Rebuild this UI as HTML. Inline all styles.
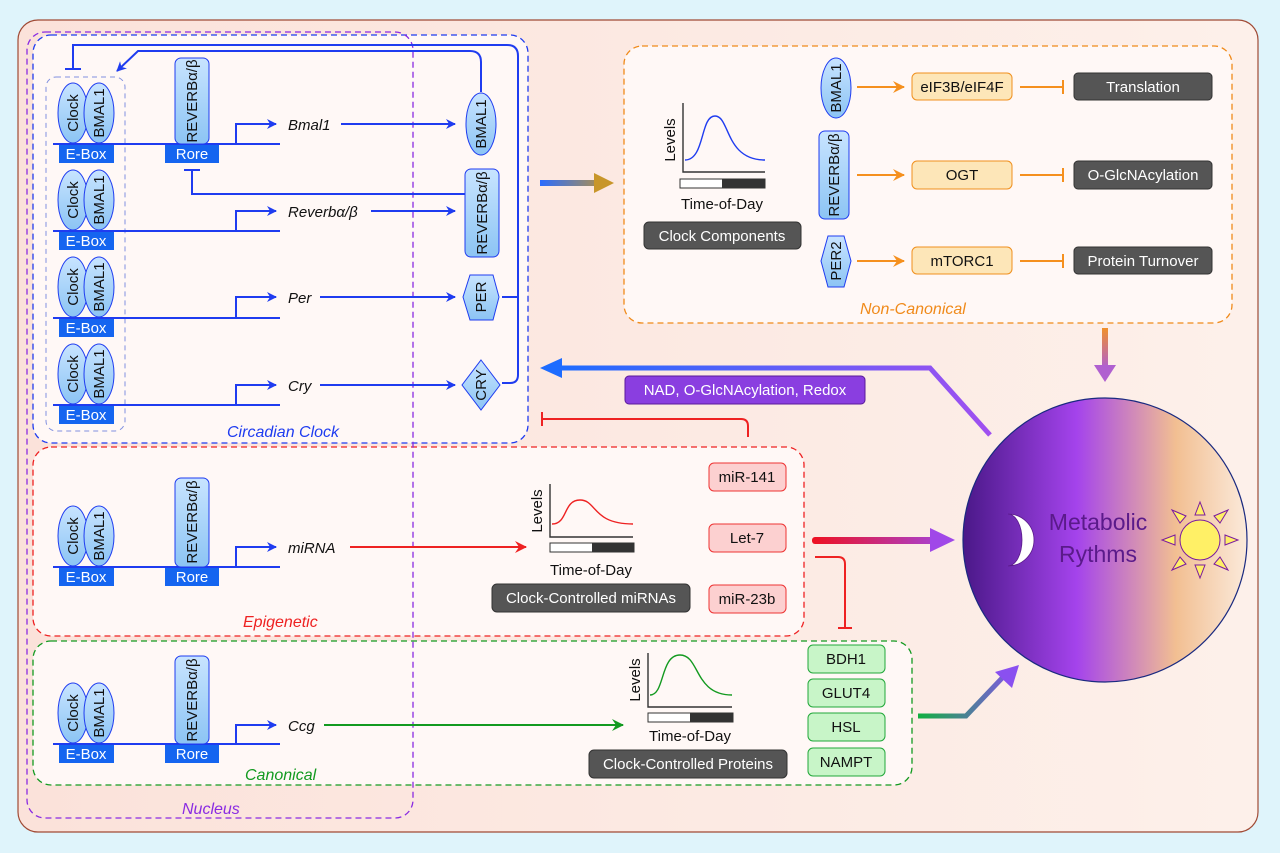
<!DOCTYPE html>
<html><head><meta charset="utf-8"><style>
html,body{margin:0;padding:0;background:#dff4fb}
svg{display:block;font-family:"Liberation Sans",sans-serif}
</style></head><body>
<svg width="1280" height="853" viewBox="0 0 1280 853" xmlns="http://www.w3.org/2000/svg">
<defs>
<linearGradient id="bg" x1="0" y1="0" x2="1" y2="0"><stop offset="0" stop-color="#fbe2da"/><stop offset="1" stop-color="#fdf0ea"/></linearGradient>
<linearGradient id="circ" x1="0" y1="0" x2="1" y2="0"><stop offset="0" stop-color="#4a1888"/><stop offset="0.4" stop-color="#a443ec"/><stop offset="0.75" stop-color="#f2bf92"/><stop offset="1" stop-color="#fbeadb"/></linearGradient>
<linearGradient id="ga1" gradientUnits="userSpaceOnUse" x1="540" y1="0" x2="614" y2="0"><stop offset="0" stop-color="#2a6cff"/><stop offset="1" stop-color="#c8962a"/></linearGradient>
<linearGradient id="ga2" x1="0" y1="0" x2="0" y2="1"><stop offset="0" stop-color="#f0902a"/><stop offset="1" stop-color="#b060d0"/></linearGradient>
<linearGradient id="ga3" gradientUnits="userSpaceOnUse" x1="560" y1="0" x2="990" y2="0"><stop offset="0" stop-color="#1e6cff"/><stop offset="1" stop-color="#a050f0"/></linearGradient>
<linearGradient id="ga4" gradientUnits="userSpaceOnUse" x1="812" y1="0" x2="955" y2="0"><stop offset="0" stop-color="#ee1020"/><stop offset="1" stop-color="#a048e8"/></linearGradient>
<linearGradient id="ga5" gradientUnits="userSpaceOnUse" x1="918" y1="0" x2="1019" y2="0"><stop offset="0" stop-color="#10b040"/><stop offset="1" stop-color="#8a50f0"/></linearGradient>
<linearGradient id="blu" x1="0" y1="0" x2="0" y2="1"><stop offset="0" stop-color="#c8e4ff"/><stop offset="1" stop-color="#8cc4f4"/></linearGradient>
<marker id="ab" markerWidth="10" markerHeight="10" refX="9" refY="5" orient="auto" markerUnits="userSpaceOnUse"><path d="M0,0 L10,5 L0,10 L3,5z" fill="#1f3cf0"/></marker>
<marker id="ar" markerWidth="12" markerHeight="12" refX="11" refY="6" orient="auto" markerUnits="userSpaceOnUse"><path d="M0,0 L12,6 L0,12 L4,6z" fill="#ee2222"/></marker>
<marker id="ag" markerWidth="12" markerHeight="12" refX="11" refY="6" orient="auto" markerUnits="userSpaceOnUse"><path d="M0,0 L12,6 L0,12 L4,6z" fill="#139a20"/></marker>
<marker id="ao" markerWidth="12" markerHeight="12" refX="11" refY="6" orient="auto" markerUnits="userSpaceOnUse"><path d="M0,0 L12,6 L0,12 L4,6z" fill="#f5901e"/></marker>
</defs>
<rect x="0" y="0" width="1280" height="853" fill="#dff4fb"/>
<rect x="18" y="20" width="1240" height="812" rx="20" fill="url(#bg)" stroke="#a04a35" stroke-width="1.2"/>

<rect x="33" y="35" width="495" height="408" rx="18" fill="#fff8f6" stroke="#1f3cf0" stroke-width="1.3" stroke-dasharray="6,4"/>
<rect x="33" y="447" width="771" height="189" rx="18" fill="#fff8f6" stroke="#ee2222" stroke-width="1.3" stroke-dasharray="6,4"/>
<rect x="33" y="641" width="879" height="144" rx="18" fill="#fff8f6" stroke="#139a20" stroke-width="1.3" stroke-dasharray="6,4"/>
<rect x="624" y="46" width="608" height="277" rx="18" fill="#fff8f6" stroke="#f08a1a" stroke-width="1.3" stroke-dasharray="6,4"/>
<rect x="27" y="32" width="386" height="786" rx="18" fill="none" stroke="#8a2be2" stroke-width="1.3" stroke-dasharray="6,4"/>
<rect x="46" y="77" width="79" height="354" rx="10" fill="none" stroke="#8090e0" stroke-width="1" stroke-dasharray="5,4"/>

<g font-size="15" fill="#111">
<g stroke="#1f3cf0" stroke-width="2" fill="none">
<line x1="53" y1="144" x2="280" y2="144"/><line x1="53" y1="231" x2="280" y2="231"/>
<line x1="53" y1="318" x2="280" y2="318"/><line x1="53" y1="405" x2="280" y2="405"/>
<line x1="53" y1="567" x2="280" y2="567"/><line x1="53" y1="744" x2="280" y2="744"/>
<path d="M236,144 V124 H276" marker-end="url(#ab)"/>
<path d="M236,231 V211 H276" marker-end="url(#ab)"/>
<path d="M236,318 V297 H276" marker-end="url(#ab)"/>
<path d="M236,405 V385 H276" marker-end="url(#ab)"/>
<path d="M236,567 V547 H276" marker-end="url(#ab)"/>
<path d="M236,744 V725 H276" marker-end="url(#ab)"/>
<line x1="341" y1="124" x2="455" y2="124" marker-end="url(#ab)"/>
<line x1="371" y1="211" x2="455" y2="211" marker-end="url(#ab)"/>
<line x1="320" y1="297" x2="455" y2="297" marker-end="url(#ab)"/>
<line x1="320" y1="385" x2="455" y2="385" marker-end="url(#ab)"/>
<path d="M465,194 H192 Q192,194 192,180 V170"/><line x1="184" y1="170" x2="200" y2="170"/>
<path d="M481,92 V62 Q481,51 470,51 H138 L117,71" marker-end="url(#ab)"/>
<path d="M502,297 H518"/><path d="M502,383 H510 Q518,383 518,375 V56 Q518,45 507,45 H73 V68"/>
<line x1="65" y1="69" x2="81" y2="69"/>
</g>
<g fill="url(#blu)" stroke="#1f3cf0" stroke-width="1">
<ellipse cx="73" cy="113" rx="15" ry="30"/><ellipse cx="99" cy="113" rx="15" ry="30"/>
<ellipse cx="73" cy="200" rx="15" ry="30"/><ellipse cx="99" cy="200" rx="15" ry="30"/>
<ellipse cx="73" cy="287" rx="15" ry="30"/><ellipse cx="99" cy="287" rx="15" ry="30"/>
<ellipse cx="73" cy="374" rx="15" ry="30"/><ellipse cx="99" cy="374" rx="15" ry="30"/>
<ellipse cx="73" cy="536" rx="15" ry="30"/><ellipse cx="99" cy="536" rx="15" ry="30"/>
<ellipse cx="73" cy="713" rx="15" ry="30"/><ellipse cx="99" cy="713" rx="15" ry="30"/>
<rect x="175" y="58" width="34" height="86" rx="6"/>
<rect x="175" y="478" width="34" height="89" rx="6"/>
<rect x="175" y="656" width="34" height="88" rx="6"/>
<ellipse cx="481" cy="124" rx="15" ry="31"/>
<rect x="465" y="169" width="34" height="88" rx="6"/>
<path d="M470,275 H493 L499,297 L493,320 H470 L463,297z"/>
<path d="M481,360 L500,385 L481,410 L462,385z"/>
<ellipse cx="836" cy="88" rx="15" ry="30"/>
<rect x="819" y="131" width="30" height="88" rx="6"/>
<path d="M828,236 H844 L851,261 L844,287 H828 L821,261z"/>
</g>
<g fill="#1565f0">
<rect x="59" y="145" width="55" height="18"/><rect x="59" y="232" width="55" height="18"/>
<rect x="59" y="319" width="55" height="18"/><rect x="59" y="406" width="55" height="18"/>
<rect x="59" y="568" width="55" height="18"/><rect x="59" y="745" width="55" height="18"/>
<rect x="165" y="145" width="54" height="18"/><rect x="165" y="568" width="54" height="18"/><rect x="165" y="745" width="54" height="18"/>
</g>
<g fill="#fff" font-size="15" text-anchor="middle">
<text x="86" y="159">E-Box</text><text x="86" y="246">E-Box</text><text x="86" y="333">E-Box</text><text x="86" y="420">E-Box</text><text x="86" y="582">E-Box</text><text x="86" y="759">E-Box</text>
<text x="192" y="159">Rore</text><text x="192" y="582">Rore</text><text x="192" y="759">Rore</text>
</g>
<g font-size="15" text-anchor="middle" fill="#111">
<text transform="translate(78,113) rotate(-90)">Clock</text><text transform="translate(104,113) rotate(-90)">BMAL1</text>
<text transform="translate(78,200) rotate(-90)">Clock</text><text transform="translate(104,200) rotate(-90)">BMAL1</text>
<text transform="translate(78,287) rotate(-90)">Clock</text><text transform="translate(104,287) rotate(-90)">BMAL1</text>
<text transform="translate(78,374) rotate(-90)">Clock</text><text transform="translate(104,374) rotate(-90)">BMAL1</text>
<text transform="translate(78,536) rotate(-90)">Clock</text><text transform="translate(104,536) rotate(-90)">BMAL1</text>
<text transform="translate(78,713) rotate(-90)">Clock</text><text transform="translate(104,713) rotate(-90)">BMAL1</text>
<text transform="translate(197,101) rotate(-90)">REVERBα/β</text>
<text transform="translate(197,522) rotate(-90)">REVERBα/β</text>
<text transform="translate(197,700) rotate(-90)">REVERBα/β</text>
<text transform="translate(486,124) rotate(-90)">BMAL1</text>
<text transform="translate(487,213) rotate(-90)">REVERBα/β</text>
<text transform="translate(486,297) rotate(-90)">PER</text>
<text transform="translate(486,385) rotate(-90)">CRY</text>
<text transform="translate(841,88) rotate(-90)">BMAL1</text>
<text transform="translate(839,175) rotate(-90)">REVERBα/β</text>
<text transform="translate(841,261) rotate(-90)">PER2</text>
</g>
<g font-style="italic" font-size="15">
<text x="288" y="130">Bmal1</text><text x="288" y="217">Reverbα/β</text>
<text x="288" y="303">Per</text><text x="288" y="391">Cry</text>
<text x="288" y="553">miRNA</text><text x="288" y="731">Ccg</text>
<text x="227" y="437" fill="#1f3cf0" font-size="16">Circadian Clock</text>
<text x="243" y="627" fill="#ee2222" font-size="16">Epigenetic</text>
<text x="245" y="780" fill="#139a20" font-size="16">Canonical</text>
<text x="182" y="814" fill="#8a2be2" font-size="16">Nucleus</text>
<text x="860" y="314" fill="#f08a1a" font-size="16">Non-Canonical</text>
</g>

<line x1="350" y1="547" x2="526" y2="547" stroke="#ee2222" stroke-width="2" marker-end="url(#ar)"/>
<line x1="324" y1="725" x2="623" y2="725" stroke="#139a20" stroke-width="2" marker-end="url(#ag)"/>

<g fill="none" stroke-width="1.4">
<path d="M683,103 V172 H765" stroke="#333"/>
<path d="M685,160 C705,160 700,116 715,116 C730,116 725,160 765,160" stroke="#1f3cf0"/>
<path d="M550,484 V537 H633" stroke="#333"/>
<path d="M552,524 C568,524 563,500 580,500 C597,500 592,524 633,524" stroke="#ee2222"/>
<path d="M648,653 V707 H732" stroke="#333"/>
<path d="M650,695 C665,695 660,655 680,655 C700,655 694,695 732,695" stroke="#139a20"/>
</g>
<rect x="680" y="179" width="85" height="9" fill="#fff" stroke="#333"/><rect x="722" y="179" width="43" height="9" fill="#333"/>
<rect x="550" y="543" width="84" height="9" fill="#fff" stroke="#333"/><rect x="592" y="543" width="42" height="9" fill="#333"/>
<rect x="648" y="713" width="85" height="9" fill="#fff" stroke="#333"/><rect x="690" y="713" width="43" height="9" fill="#333"/>
<g font-size="15" text-anchor="middle">
<text transform="translate(675,140) rotate(-90)">Levels</text>
<text transform="translate(542,511) rotate(-90)">Levels</text>
<text transform="translate(640,680) rotate(-90)">Levels</text>
<text x="722" y="209">Time-of-Day</text>
<text x="591" y="575">Time-of-Day</text>
<text x="690" y="741">Time-of-Day</text>
</g>
<g fill="#555" stroke="#333"><rect x="644" y="222" width="157" height="27" rx="5"/><rect x="492" y="584" width="198" height="28" rx="5"/><rect x="589" y="750" width="198" height="28" rx="5"/>
<rect x="1074" y="73" width="138" height="27" rx="4"/><rect x="1074" y="161" width="138" height="28" rx="4"/><rect x="1074" y="247" width="138" height="27" rx="4"/></g>
<g fill="#fff" text-anchor="middle" font-size="15">
<text x="722" y="241">Clock Components</text><text x="591" y="603">Clock-Controlled miRNAs</text><text x="688" y="769">Clock-Controlled Proteins</text>
<text x="1143" y="92">Translation</text><text x="1143" y="180">O-GlcNAcylation</text><text x="1143" y="266">Protein Turnover</text>
</g>
<g fill="#fde6b8" stroke="#f0901e"><rect x="912" y="73" width="100" height="27" rx="5"/><rect x="912" y="161" width="100" height="28" rx="5"/><rect x="912" y="247" width="100" height="27" rx="5"/></g>
<g text-anchor="middle"><text x="962" y="92">eIF3B/eIF4F</text><text x="962" y="180">OGT</text><text x="962" y="266">mTORC1</text></g>
<g stroke="#f5901e" stroke-width="2">
<line x1="857" y1="87" x2="904" y2="87" marker-end="url(#ao)"/><line x1="857" y1="175" x2="904" y2="175" marker-end="url(#ao)"/><line x1="857" y1="261" x2="904" y2="261" marker-end="url(#ao)"/>
<line x1="1020" y1="87" x2="1063" y2="87"/><line x1="1063" y1="80" x2="1063" y2="94"/>
<line x1="1020" y1="175" x2="1063" y2="175"/><line x1="1063" y1="168" x2="1063" y2="182"/>
<line x1="1020" y1="261" x2="1063" y2="261"/><line x1="1063" y1="254" x2="1063" y2="268"/>
</g>
<g fill="#fcd0d0" stroke="#ee3333"><rect x="709" y="463" width="77" height="28" rx="5"/><rect x="709" y="524" width="77" height="28" rx="5"/><rect x="709" y="585" width="77" height="28" rx="5"/></g>
<g text-anchor="middle"><text x="747" y="482">miR-141</text><text x="747" y="543">Let-7</text><text x="747" y="604">miR-23b</text></g>
<g fill="#c8f5c8" stroke="#22a83a"><rect x="808" y="645" width="77" height="28" rx="5"/><rect x="808" y="679" width="77" height="28" rx="5"/><rect x="808" y="713" width="77" height="28" rx="5"/><rect x="808" y="748" width="77" height="28" rx="5"/></g>
<g text-anchor="middle"><text x="846" y="664">BDH1</text><text x="846" y="698">GLUT4</text><text x="846" y="732">HSL</text><text x="846" y="767">NAMPT</text></g>
</g>

<g stroke="#ee2222" stroke-width="2" fill="none">
<path d="M748,437 V426 Q748,419 741,419 H542"/><line x1="542" y1="412" x2="542" y2="426"/>
<path d="M815,557 H838 Q845,557 845,564 V627"/><line x1="838" y1="628" x2="852" y2="628"/>
</g>

<rect x="540" y="180" width="56" height="6" fill="url(#ga1)"/>
<path d="M594,173 L614,183 L594,193z" fill="#c8962a"/>
<rect x="1102" y="328" width="6" height="40" fill="url(#ga2)"/>
<path d="M1094,365 L1105,382 L1116,365z" fill="#b060d0"/>
<path d="M990,435 L930,368 H560" stroke="url(#ga3)" stroke-width="5" fill="none"/>
<path d="M562,358 L540,368 L562,378z" fill="#1e6cff"/>
<rect x="812" y="537" width="123" height="7" rx="3" fill="url(#ga4)"/>
<path d="M930,528 L955,540 L930,552z" fill="#a048e8"/>
<path d="M918,716 H966 L1005,675" stroke="url(#ga5)" stroke-width="5" fill="none"/>
<path d="M995,672 L1019,665 L1012,688z" fill="#8a50f0"/>
<rect x="625" y="376" width="240" height="28" rx="4" fill="#8a3ee0" stroke="#5a1a9a"/>
<text x="745" y="395" fill="#fff" font-size="15" text-anchor="middle">NAD, O-GlcNAcylation, Redox</text>

<circle cx="1105" cy="540" r="142" fill="url(#circ)" stroke="#1a2a80" stroke-width="1.2"/>
<path d="M1008,514 A26,26 0 0,1 1008,566 A14,26 0 0,0 1008,514z" fill="#fff" stroke="#5a1a8a" stroke-width="0.8"/>
<text x="1098" y="530" font-size="23" fill="#5a1a8a" text-anchor="middle">Metabolic</text>
<text x="1098" y="562" font-size="23" fill="#5a1a8a" text-anchor="middle">Rythms</text>
<g fill="#fff066" stroke="#7a1aa0" stroke-width="1">
<circle cx="1200" cy="540" r="20"/>
<path d="M1195,515 L1200,502 L1205,515z"/><path d="M1195,565 L1200,578 L1205,565z"/>
<path d="M1175,535 L1162,540 L1175,545z"/><path d="M1225,535 L1238,540 L1225,545z"/>
<path d="M1180,523 L1172,510 L1186,516z"/><path d="M1220,523 L1228,510 L1214,516z"/>
<path d="M1180,557 L1172,570 L1186,564z"/><path d="M1220,557 L1228,570 L1214,564z"/>
</g>
</svg>
</body></html>
